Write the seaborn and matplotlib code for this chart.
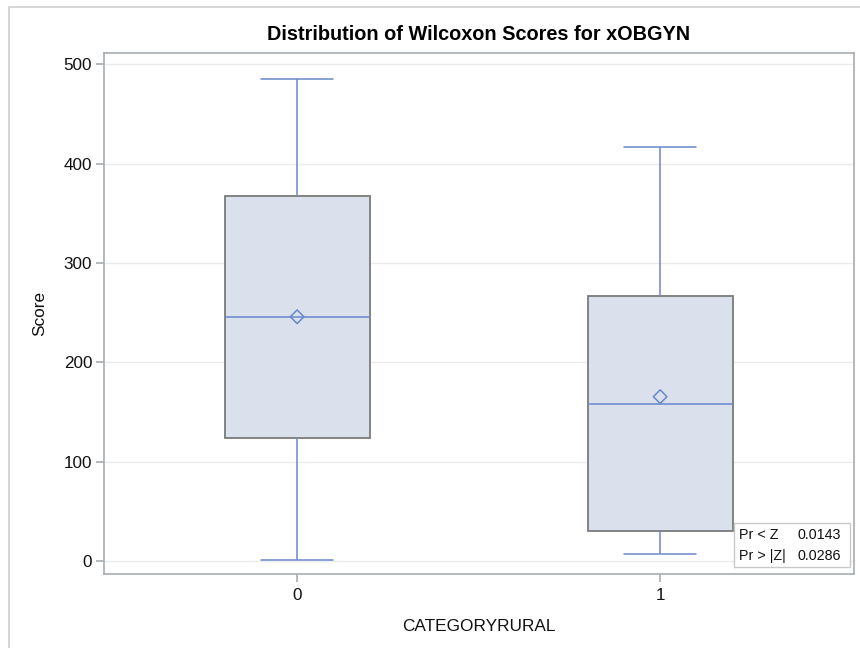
import matplotlib
matplotlib.use("Agg")
import matplotlib.pyplot as plt
from matplotlib.patches import Rectangle
import seaborn as sns
import pandas as pd

# --- data ---
categories = ["0", "1"]
mins = [1.3, 7.0]
q1s = [123.7, 30.8]
medians = [246.1, 158.0]
q3s = [367.8, 266.9]
maxs = [485.5, 417.1]
means = [246.0, 165.6]
yticks = [0, 100, 200, 300, 400, 500]
stat_labels = ["Pr < Z", "Pr > |Z|"]
stat_values = ["0.0143", "0.0286"]

# five-number summaries as tiny samples (linear quantiles reproduce them exactly)
rows = []
for c, a, b, m, d, e in zip(categories, mins, q1s, medians, q3s, maxs):
    for v in (a, b, m, d, e):
        rows.append({"CATEGORYRURAL": c, "Score": v})
df = pd.DataFrame(rows)
mean_df = pd.DataFrame({"CATEGORYRURAL": categories, "Score": means})

sns.set_theme(style="white")
plt.rcParams["font.family"] = ["Liberation Sans", "DejaVu Sans"]

BLUE = "#6888CC"
FILL = "#DAE1EC"
EDGE = "#7A7A7A"
AXC = "#A7ADB2"
TXT = "#111111"

fig = plt.figure(figsize=(8.6, 6.48), dpi=100)
ax = fig.add_axes([104 / 860, 1 - 573.7 / 648, 750 / 860, 520.7 / 648])

for y in yticks:
    ax.axhline(y, color="#EBEBEB", lw=1.0, zorder=0)

sns.boxplot(
    data=df, x="CATEGORYRURAL", y="Score", order=categories, ax=ax,
    width=0.4, whis=(0, 100), color=FILL, saturation=1,
    boxprops=dict(facecolor=FILL, edgecolor=EDGE, linewidth=1.3, zorder=2),
    whiskerprops=dict(color=BLUE, linewidth=1.1),
    capprops=dict(color=BLUE, linewidth=1.1),
    medianprops=dict(color=BLUE, linewidth=1.1),
    flierprops=dict(marker=""),
)
sns.scatterplot(
    data=mean_df, x="CATEGORYRURAL", y="Score", ax=ax, marker="D", s=48,
    facecolor="none", edgecolor=BLUE, linewidth=1.1, zorder=5, legend=False,
)

ax.set_xlim(-0.532, 1.534)
ax.set_ylim(-12.5, 511.4)
ax.set_yticks(yticks)
ax.set_yticklabels([str(t) for t in yticks])
for s in ax.spines.values():
    s.set_color(AXC)
    s.set_linewidth(1.2)
ax.tick_params(axis="both", which="both", direction="out", length=5.5, width=1.2,
               color=AXC, labelsize=12.3, labelcolor=TXT, pad=3,
               left=True, bottom=True)
ax.tick_params(axis="x", pad=5)
ax.set_xlabel("CATEGORYRURAL", fontsize=12.4, color=TXT, labelpad=11)
ax.set_ylabel("Score", fontsize=12.4, color=TXT, labelpad=12)
ax.set_title("Distribution of Wilcoxon Scores for xOBGYN", fontsize=14.3,
             fontweight="bold", color="#000000", pad=9)

# inset statistics box
ax.add_patch(Rectangle((0.84, 0.013), 0.1547, 0.0845, transform=ax.transAxes,
                       facecolor="white", edgecolor="#C8C8C8", lw=1.0, zorder=6))
for i, (lab, val) in enumerate(zip(stat_labels, stat_values)):
    yy = 0.074 - i * 0.040
    ax.text(0.8467, yy, lab, transform=ax.transAxes, fontsize=10.3,
            va="center", ha="left", color=TXT, zorder=7)
    ax.text(0.9253, yy, val, transform=ax.transAxes, fontsize=10.3,
            va="center", ha="left", color=TXT, zorder=7)

# outer graph border (left and top edges visible)
fig.add_artist(Rectangle((9 / 860, -0.1), 1.5, 1 - 7 / 648 + 0.1,
                         transform=fig.transFigure, fill=False,
                         edgecolor="#D0D0D0", lw=1.2))

fig.savefig("out.png", dpi=100)
